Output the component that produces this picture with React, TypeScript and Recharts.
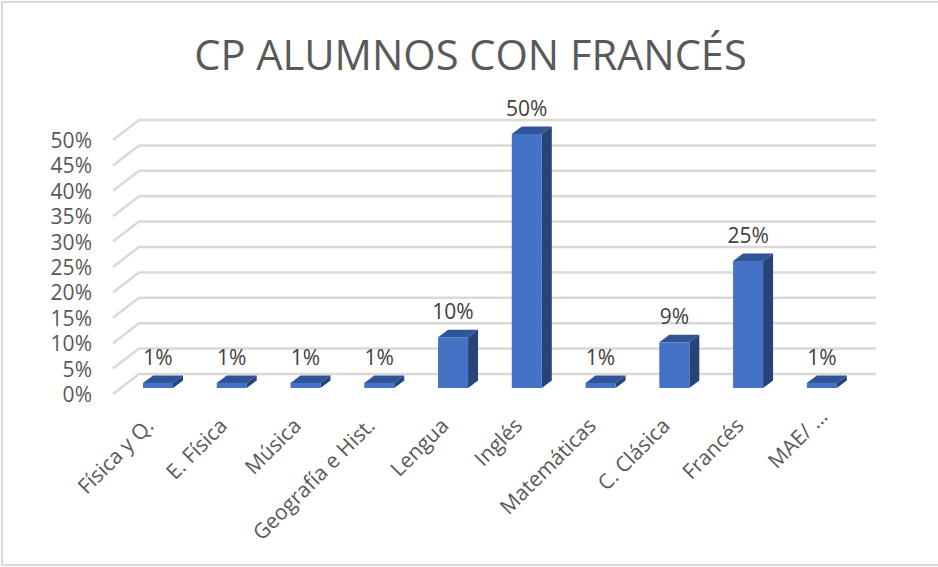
import React from "react";
import { BarChart, Bar, XAxis, YAxis, CartesianGrid, LabelList } from "recharts";

const categories = ["Física y Q.", "E. Física", "Música", "Geografía e Hist.", "Lengua", "Inglés", "Matemáticas", "C. Clásica", "Francés", "MAE/ …"];
const values = [1, 1, 1, 1, 10, 50, 1, 9, 25, 1];
const yTicks = [0, 5, 10, 15, 20, 25, 30, 35, 40, 45, 50];
const data = categories.map((name, i) => ({ name, value: values[i] }));

const FONT = "'Open Sans', sans-serif";
const GRID = "#D9D9D9";

const Grid3D = (p: any) => {
  const { x1, x2, y1 } = p;
  return (
    <g key={p.key} fill="none" stroke={GRID} strokeWidth={2.5}>
      <polyline points={`${x1 - 8},${y1 + 6} ${x1 + 18},${y1 - 14} ${x2 + 17.5},${y1 - 14}`} />
    </g>
  );
};

const Bar3D = (p: any) => {
  const { x, y, width, height } = p;
  const dx = 10;
  const dy = 7.5;
  return (
    <g>
      <polygon points={`${x},${y} ${x + dx},${y - dy} ${x + width + dx},${y - dy} ${x + width},${y}`} fill="#2F5597" />
      <polygon points={`${x + width},${y} ${x + width + dx},${y - dy} ${x + width + dx},${y + height - dy} ${x + width},${y + height}`} fill="#264478" />
      <rect x={x} y={y} width={width} height={height} fill="#4472C4" />
    </g>
  );
};

const YTick = (p: any) => (
  <text x={92} y={p.y + 14} textAnchor="end" fontFamily={FONT} fontSize={21} fill="#595959">
    {p.payload.value}%
  </text>
);

const XTick = (p: any) => {
  const truncated = String(p.payload.value).endsWith("…");
  const ax = p.x - 3 + (truncated ? 10 : 0);
  const ay = p.y + 31 - (truncated ? 9 : 0);
  return (
    <text x={ax} y={ay} textAnchor="end" transform={`rotate(-45 ${ax} ${ay})`} fontFamily={FONT} fontSize={21} fill="#595959">
      {p.payload.value}
    </text>
  );
};

export default function App() {
  return (
    <div style={{ position: "absolute", left: 0, top: 0, width: 938, height: 567, overflow: "hidden", background: "#fff" }}>
      <div style={{ position: "absolute", left: 1, top: 1, width: 1000, height: 565, border: `2px solid ${GRID}`, boxSizing: "border-box" }} />
      <div style={{ position: "absolute", left: 0, top: 25, width: 941, textAlign: "center", fontFamily: FONT, fontSize: 41.6, color: "#595959", lineHeight: "58px" }}>
        CP ALUMNOS CON FRANCÉS
      </div>
      <div style={{ position: "absolute", left: 0, top: 0 }}>
        <BarChart width={938} height={567} data={data} margin={{ top: 134, right: 79.4, bottom: 79, left: 61 }} barSize={30}>
          <CartesianGrid horizontal={Grid3D} vertical={false} />
          <XAxis dataKey="name" height={100} interval={0} axisLine={false} tickLine={false} tick={XTick} />
          <YAxis width={60} domain={[0, 50]} ticks={yTicks} interval={0} axisLine={false} tickLine={false} tick={YTick} />
          <Bar dataKey="value" shape={Bar3D} isAnimationActive={false}>
            <LabelList dataKey="value" position="top" offset={18} formatter={(v: any) => `${v}%`} fontFamily={FONT} fontSize={21} fill="#404040" />
          </Bar>
        </BarChart>
      </div>
    </div>
  );
}
